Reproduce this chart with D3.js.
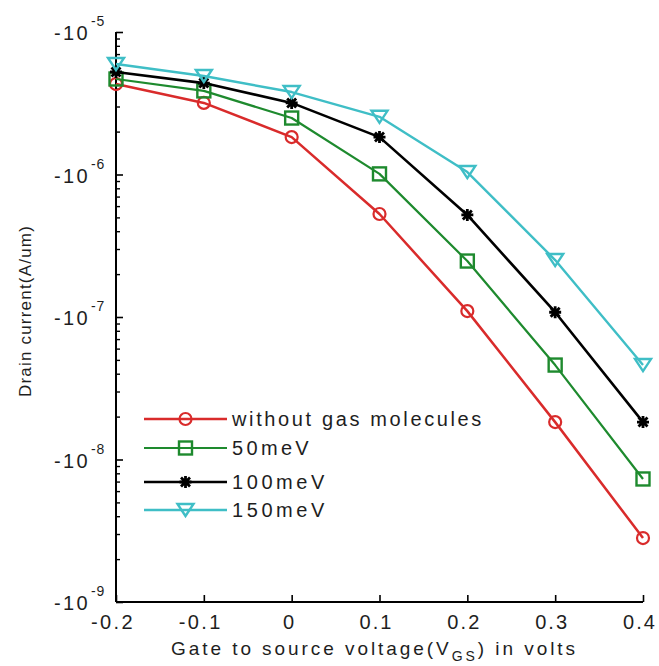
<!DOCTYPE html>
<html>
<head>
<meta charset="utf-8">
<script src="https://cdn.jsdelivr.net/npm/d3@7/dist/d3.min.js"></script>
<style>
  html, body { margin: 0; padding: 0; background: #fff; }
  text { font-family: "Liberation Sans", Arial, Helvetica, sans-serif; fill: #1e1e1e; }
</style>
</head>
<body>
<svg id="chart" width="659" height="666"></svg>
<script>
// ---- data ----
const xValues = [-0.2, -0.1, 0, 0.1, 0.2, 0.3, 0.4];
const xTickLabels = ["-0.2", "-0.1", "0", "0.1", "0.2", "0.3", "0.4"];
const yTickExponents = [-5, -6, -7, -8, -9];
const seriesNames = ["without gas molecules", "50meV", "100meV", "150meV"];
// magnitudes of drain current (A/um); axis shows them as negative values
const withoutGas = [4.31e-6, 3.18e-6, 1.83e-6, 5.28e-7, 1.10e-7, 1.83e-8, 2.81e-9];
const mev50      = [4.68e-6, 3.86e-6, 2.49e-6, 1.01e-6, 2.47e-7, 4.60e-8, 7.30e-9];
const mev100     = [5.24e-6, 4.38e-6, 3.18e-6, 1.83e-6, 5.20e-7, 1.08e-7, 1.83e-8];
const mev150     = [5.96e-6, 4.91e-6, 3.79e-6, 2.54e-6, 1.04e-6, 2.51e-7, 4.60e-8];

const seriesValues = [withoutGas, mev50, mev100, mev150];
const colors = ["#d92b2b", "#1e8a2e", "#000000", "#3fbec6"];
const markers = ["circle", "square", "star", "triangle"];
const widths = [2.5, 2.2, 2.6, 2.4];

const svg = d3.select("#chart");
const L = 116, R = 643, T = 32, B = 602;

const x = d3.scaleLinear().domain([-0.2, 0.4]).range([L, R]);
const y = d3.scaleLog().domain([1e-9, 1e-5]).range([B, T]);

function fit(sel, target) {
  const n = sel.text().length;
  const w = sel.node().getComputedTextLength();
  sel.attr("letter-spacing", ((target - w) / n).toFixed(2));
}

// ---- axes ----
const xAxis = d3.axisBottom(x).tickValues(xValues).tickSize(-7).tickFormat("");
const gx = svg.append("g").attr("transform", `translate(0,${B})`).call(xAxis);
gx.select(".domain").attr("stroke", "#000").attr("stroke-width", 2).attr("d", `M${L},0H${R}`);
gx.selectAll(".tick line").attr("stroke", "#000").attr("stroke-width", 1.6);

const majors = yTickExponents.map(e => Math.pow(10, e));
const minors = [];
for (let e = -9; e < -5; e++) for (let k = 2; k <= 9; k++) minors.push(k * Math.pow(10, e));
const yAxisMajor = d3.axisLeft(y).tickValues(majors).tickSize(-7).tickFormat("");
const gy = svg.append("g").attr("transform", `translate(${L},0)`).call(yAxisMajor);
gy.select(".domain").attr("stroke", "#000").attr("stroke-width", 2).attr("d", `M0,${T}V${B}`);
gy.selectAll(".tick line").attr("stroke", "#000").attr("stroke-width", 1.6);
const yAxisMinor = d3.axisLeft(y).tickValues(minors).tickSize(-4).tickFormat("");
const gym = svg.append("g").attr("transform", `translate(${L},0)`).call(yAxisMinor);
gym.select(".domain").remove();
gym.selectAll(".tick line").attr("stroke", "#000").attr("stroke-width", 1.4);

// x tick labels
xValues.forEach((v, i) => {
  const t = svg.append("text").attr("x", x(v) - 3).attr("y", B + 27)
    .attr("text-anchor", "middle").attr("font-size", 20).text(xTickLabels[i]);
  const nat = t.node().getComputedTextLength();
  const target = xTickLabels[i].length === 1 ? nat : (xTickLabels[i].length === 3 ? 34 : 44);
  fit(t, target);
});

// y tick labels: -10^e
yTickExponents.forEach(e => {
  const ty = y(Math.pow(10, e));
  const base = svg.append("text").attr("x", 54).attr("y", ty + 8)
    .attr("font-size", 20).text("-10");
  fit(base, 36);
  const sup = svg.append("text").attr("x", 91).attr("y", ty - 6)
    .attr("font-size", 14).text(String(e));
  fit(sup, 14);
});

// axis titles
const xt = svg.append("text").attr("x", 171).attr("y", 655).attr("font-size", 19);
xt.append("tspan").text("Gate to source voltage(V");
xt.append("tspan").attr("font-size", 14).attr("dy", 6).text("GS");
xt.append("tspan").attr("dy", -6).text(") in volts");
(function () {
  const n = "Gate to source voltage(VGS) in volts".length;
  const w = xt.node().getComputedTextLength();
  xt.attr("letter-spacing", ((407 - w) / n).toFixed(2));
})();

const yt = svg.append("text")
  .attr("transform", `translate(31,311) rotate(-90)`)
  .attr("text-anchor", "middle").attr("font-size", 17).text("Drain current(A/um)");
fit(yt, 172);

// ---- markers ----
function drawMarker(g, type, cx, cy, color) {
  if (type === "circle") {
    g.append("circle").attr("cx", cx).attr("cy", cy).attr("r", 6)
      .attr("fill", "none").attr("stroke", color).attr("stroke-width", 2.2);
  } else if (type === "square") {
    g.append("rect").attr("x", cx - 6.5).attr("y", cy - 6.5).attr("width", 13).attr("height", 13)
      .attr("fill", "none").attr("stroke", color).attr("stroke-width", 2.4);
  } else if (type === "triangle") {
    const w = 8, h = 6;
    g.append("path").attr("d", `M${cx - w},${cy - h}L${cx + w},${cy - h}L${cx},${cy + h}Z`)
      .attr("fill", "none").attr("stroke", color).attr("stroke-width", 2.4).attr("stroke-linejoin", "miter");
  } else if (type === "star") {
    const s = 6;
    const d = `M${cx - s},${cy}H${cx + s}M${cx},${cy - s}V${cy + s}` +
      `M${cx - s * 0.75},${cy - s * 0.75}L${cx + s * 0.75},${cy + s * 0.75}` +
      `M${cx - s * 0.75},${cy + s * 0.75}L${cx + s * 0.75},${cy - s * 0.75}`;
    g.append("path").attr("d", d).attr("stroke", color).attr("stroke-width", 2.8).attr("fill", "none");
  }
}

// ---- series ----
const line = d3.line().x(d => x(d[0])).y(d => y(d[1]));
seriesValues.forEach((vals, i) => {
  const pts = xValues.map((xv, j) => [xv, vals[j]]);
  const g = svg.append("g");
  g.append("path").datum(pts).attr("d", line).attr("fill", "none")
    .attr("stroke", colors[i]).attr("stroke-width", widths[i]).attr("stroke-linejoin", "round");
  pts.forEach(p => drawMarker(g, markers[i], x(p[0]), y(p[1]), colors[i]));
});

// ---- legend ----
const legendY = [419, 448, 482, 510];
const lg = svg.append("g");
lg.append("rect").attr("x", 130).attr("y", 404).attr("width", 364).attr("height", 122).attr("fill", "#fff");
seriesNames.forEach((name, i) => {
  const ly = legendY[i];
  lg.append("line").attr("x1", 144).attr("x2", 227).attr("y1", ly).attr("y2", ly)
    .attr("stroke", colors[i]).attr("stroke-width", widths[i]);
  drawMarker(lg, markers[i], 185.5, ly, colors[i]);
  const t = lg.append("text").attr("x", 232).attr("y", ly + 7).attr("font-size", 20).text(name);
  const targets = [252, 80, 96, 96];
  fit(t, targets[i]);
});
</script>
</body>
</html>
